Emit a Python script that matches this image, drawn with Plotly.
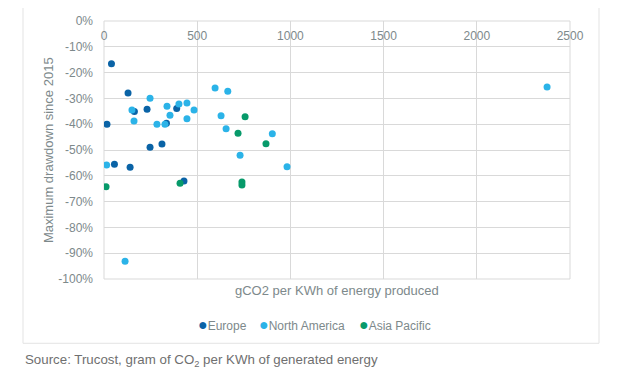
import plotly.graph_objects as go

# ---- data ----
europe_x = [40, 129, 231, 163, 16, 390, 247, 311, 56, 140, 429, 335]
europe_y = [-16.6, -27.9, -34.2, -35.1, -40.0, -33.9, -48.9, -47.7, -55.5, -56.7, -62.0, -39.6]

north_america_x = [596, 664, 247, 150, 338, 402, 445, 483, 354, 628, 161, 284, 327, 445,
                   655, 903, 730, 982, 14, 113, 2377]
north_america_y = [-26.0, -27.2, -29.9, -34.5, -33.0, -32.2, -31.8, -34.5, -36.5, -36.7, -38.8,
                   -40.0, -40.0, -37.9, -41.8, -43.7, -52.0, -56.5, -55.8, -93.1, -25.6]

asia_pacific_x = [757, 719, 869, 11, 408, 740, 740]
asia_pacific_y = [-37.1, -43.5, -47.6, -64.2, -62.9, -62.4, -63.6]

series_names = ["Europe", "North America", "Asia Pacific"]
x_ticks = [0, 500, 1000, 1500, 2000, 2500]
y_ticks = [0, -10, -20, -30, -40, -50, -60, -70, -80, -90, -100]
y_tick_labels = [f"{v}%" for v in y_ticks]

# ---- styles ----
FONT = "Liberation Sans, Arial, sans-serif"
TXT = "#7d898b"
GRID = "#d9d9d9"
colors = ["#0a63a6", "#2bb3e8", "#079a6a"]

fig = go.Figure()
for name, xs, ys, c in zip(series_names,
                           [europe_x, north_america_x, asia_pacific_x],
                           [europe_y, north_america_y, asia_pacific_y],
                           colors):
    fig.add_trace(go.Scatter(x=xs, y=ys, mode="markers", name=name, showlegend=False,
                             marker=dict(color=c, size=7, line=dict(width=0))))

# page body adds an 8px offset, so the figure is 8px smaller and margins shifted
fig.update_layout(
    width=634, height=369,
    margin=dict(l=96, r=72, t=13, b=98, autoexpand=False),
    paper_bgcolor="white", plot_bgcolor="white",
    font=dict(family=FONT, size=12, color=TXT),
    showlegend=False,
    xaxis=dict(range=[0, 2500], tickvals=x_ticks, anchor="free", position=1, side="bottom",
               showgrid=True, gridcolor=GRID, gridwidth=1, zeroline=False,
               showline=False, ticks="", automargin=False, ticklabelstandoff=6,
               tickfont=dict(size=12, color=TXT)),
    yaxis=dict(range=[-100, 0], tickvals=y_ticks, ticktext=y_tick_labels,
               showgrid=True, gridcolor=GRID, gridwidth=1, zeroline=False,
               showline=False, ticks="", automargin=False,
               ticklabelstandoff=10,
               tickfont=dict(size=12, color=TXT)),
)

# plot-area frame
fig.add_shape(type="rect", xref="paper", yref="paper", x0=0, x1=1, y0=0, y1=1,
              line=dict(color=GRID, width=1), layer="below")

fig.add_annotation(text="gCO2 per KWh of energy produced", xref="paper", yref="paper",
                   x=0.5, y=-0.045, xanchor="center", yanchor="middle", showarrow=False,
                   font=dict(size=13, color=TXT, family=FONT))
fig.add_annotation(text="Maximum drawdown since 2015", xref="paper", yref="paper",
                   x=-0.120, y=0.5, xanchor="center", yanchor="middle", textangle=-90,
                   showarrow=False, font=dict(size=13, color=TXT, family=FONT))
fig.add_annotation(text="Source: Trucost, gram of CO<sub>2</sub> per KWh of generated energy",
                   xref="paper", yref="paper", x=-0.174, y=-0.314, xanchor="left",
                   yanchor="middle", showarrow=False,
                   font=dict(size=13.3, color="#6f6f6f", family=FONT))

# legend (text entries with coloured bullets)
legend_x = [0.197, 0.328, 0.543]
for name, c, lx in zip(series_names, colors, legend_x):
    fig.add_annotation(text=f'<span style="color:{c};font-size:16px">●</span>{name}',
                       xref="paper", yref="paper", x=lx, y=-0.177, xanchor="left",
                       yanchor="middle", showarrow=False,
                       font=dict(size=12, color=TXT, family=FONT))

# outer chart border
fig.add_shape(type="rect", xref="paper", yref="paper", x0=-0.1738, x1=1.0622,
              y0=-0.2492, y1=1.0543, line=dict(color="#e3e3e3", width=1), layer="below")

fig.write_html("out.html")
